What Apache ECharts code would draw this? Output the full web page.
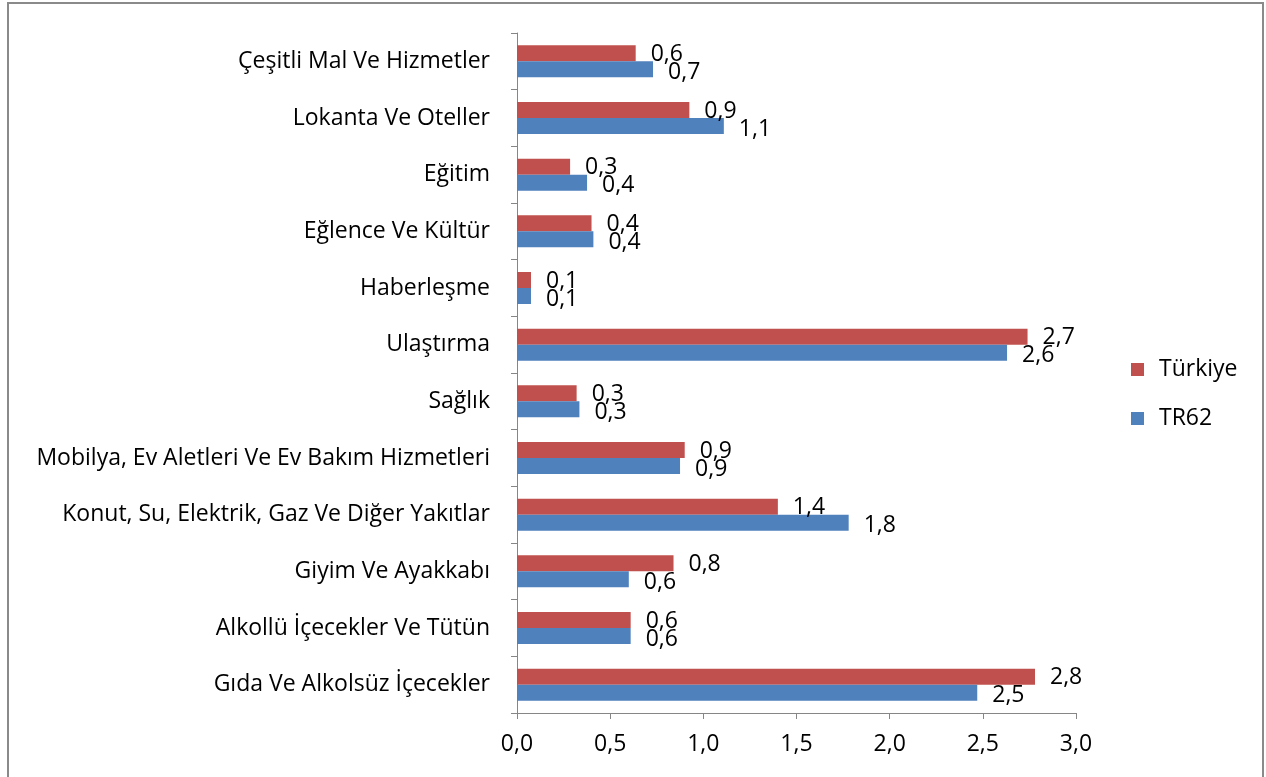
<!DOCTYPE html>
<html>
<head>
<meta charset="utf-8">
<script src="https://cdn.jsdelivr.net/npm/echarts@6/dist/echarts.min.js"></script>
<style>
    html, body { margin: 0; padding: 0; background: #fff; }
    #chart { width: 1266px; height: 777px; }
</style>
</head>
<body>
<div id="chart"></div>
<script>
// kategoriler (alttan üste)
const categories = [
    'Gıda Ve Alkolsüz İçecekler',
    'Alkollü İçecekler Ve Tütün',
    'Giyim Ve Ayakkabı',
    'Konut, Su, Elektrik, Gaz Ve Diğer Yakıtlar',
    'Mobilya, Ev Aletleri Ve Ev Bakım Hizmetleri',
    'Sağlık',
    'Ulaştırma',
    'Haberleşme',
    'Eğlence Ve Kültür',
    'Eğitim',
    'Lokanta Ve Oteller',
    'Çeşitli Mal Ve Hizmetler'
];
const tr62 = [2.47, 0.61, 0.60, 1.78, 0.875, 0.335, 2.63, 0.075, 0.41, 0.376, 1.11, 0.73];
const turkiye = [2.78, 0.61, 0.84, 1.40, 0.90, 0.32, 2.74, 0.075, 0.40, 0.285, 0.925, 0.637];
const xTicks = { min: 0, max: 3, interval: 0.5 };

const font = '"Open Sans", Lato, sans-serif';
const fontSize = 23;
const axisColor = '#868686';

function fmt(v) {
    return Number(v).toFixed(1).replace('.', ',');
}

const eChart = echarts.init(document.getElementById('chart'));
const option = {
    animation: false,
    textStyle: { fontFamily: font },
    graphic: [
        {
            type: 'rect',
            shape: { x: 8, y: 3, width: 1255, height: 800 },
            style: { fill: 'none', stroke: '#8a8a8a', lineWidth: 2 }
        }
    ],
    grid: {
        left: 517,
        right: 190,
        top: 33,
        bottom: 64
    },
    legend: {
        orient: 'vertical',
        left: 1126,
        top: 353,
        itemWidth: 13,
        itemHeight: 13,
        itemGap: 26,
        icon: 'rect',
        data: ['Türkiye', 'TR62'],
        textStyle: {
            fontFamily: font,
            fontSize: fontSize,
            color: '#000',
            padding: [0, 0, 0, 10]
        }
    },
    xAxis: {
        type: 'value',
        min: xTicks.min,
        max: xTicks.max,
        interval: xTicks.interval,
        splitLine: { show: false },
        axisLine: { show: true, lineStyle: { color: axisColor, width: 1 } },
        axisTick: { show: true, length: 6, lineStyle: { color: axisColor } },
        axisLabel: {
            margin: 20,
            fontFamily: font,
            fontSize: fontSize,
            color: '#000',
            formatter: fmt
        }
    },
    yAxis: {
        type: 'category',
        data: categories,
        axisLine: { show: true, lineStyle: { color: axisColor, width: 1 } },
        axisTick: { show: true, length: 6, lineStyle: { color: axisColor } },
        axisLabel: {
            margin: 27,
            fontFamily: font,
            fontSize: fontSize,
            color: '#000',
            interval: 0
        }
    },
    series: [
        {
            name: 'Türkiye',
            type: 'bar',
            data: turkiye,
            barWidth: 16,
            barGap: '0%',
            itemStyle: { color: '#C0504D' },
            label: {
                show: true,
                position: 'right',
                distance: 15,
                offset: [0, 1],
                fontSize: fontSize,
                fontFamily: font,
                color: '#000',
                formatter: p => fmt(p.value)
            }
        },
        {
            name: 'TR62',
            type: 'bar',
            data: tr62,
            barWidth: 16,
            barGap: '0%',
            itemStyle: { color: '#4F81BD' },
            label: {
                show: true,
                position: 'right',
                distance: 15,
                offset: [0, 3],
                fontSize: fontSize,
                fontFamily: font,
                color: '#000',
                formatter: p => fmt(p.value)
            }
        }
    ]
};
eChart.setOption(option);
</script>
</body>
</html>
